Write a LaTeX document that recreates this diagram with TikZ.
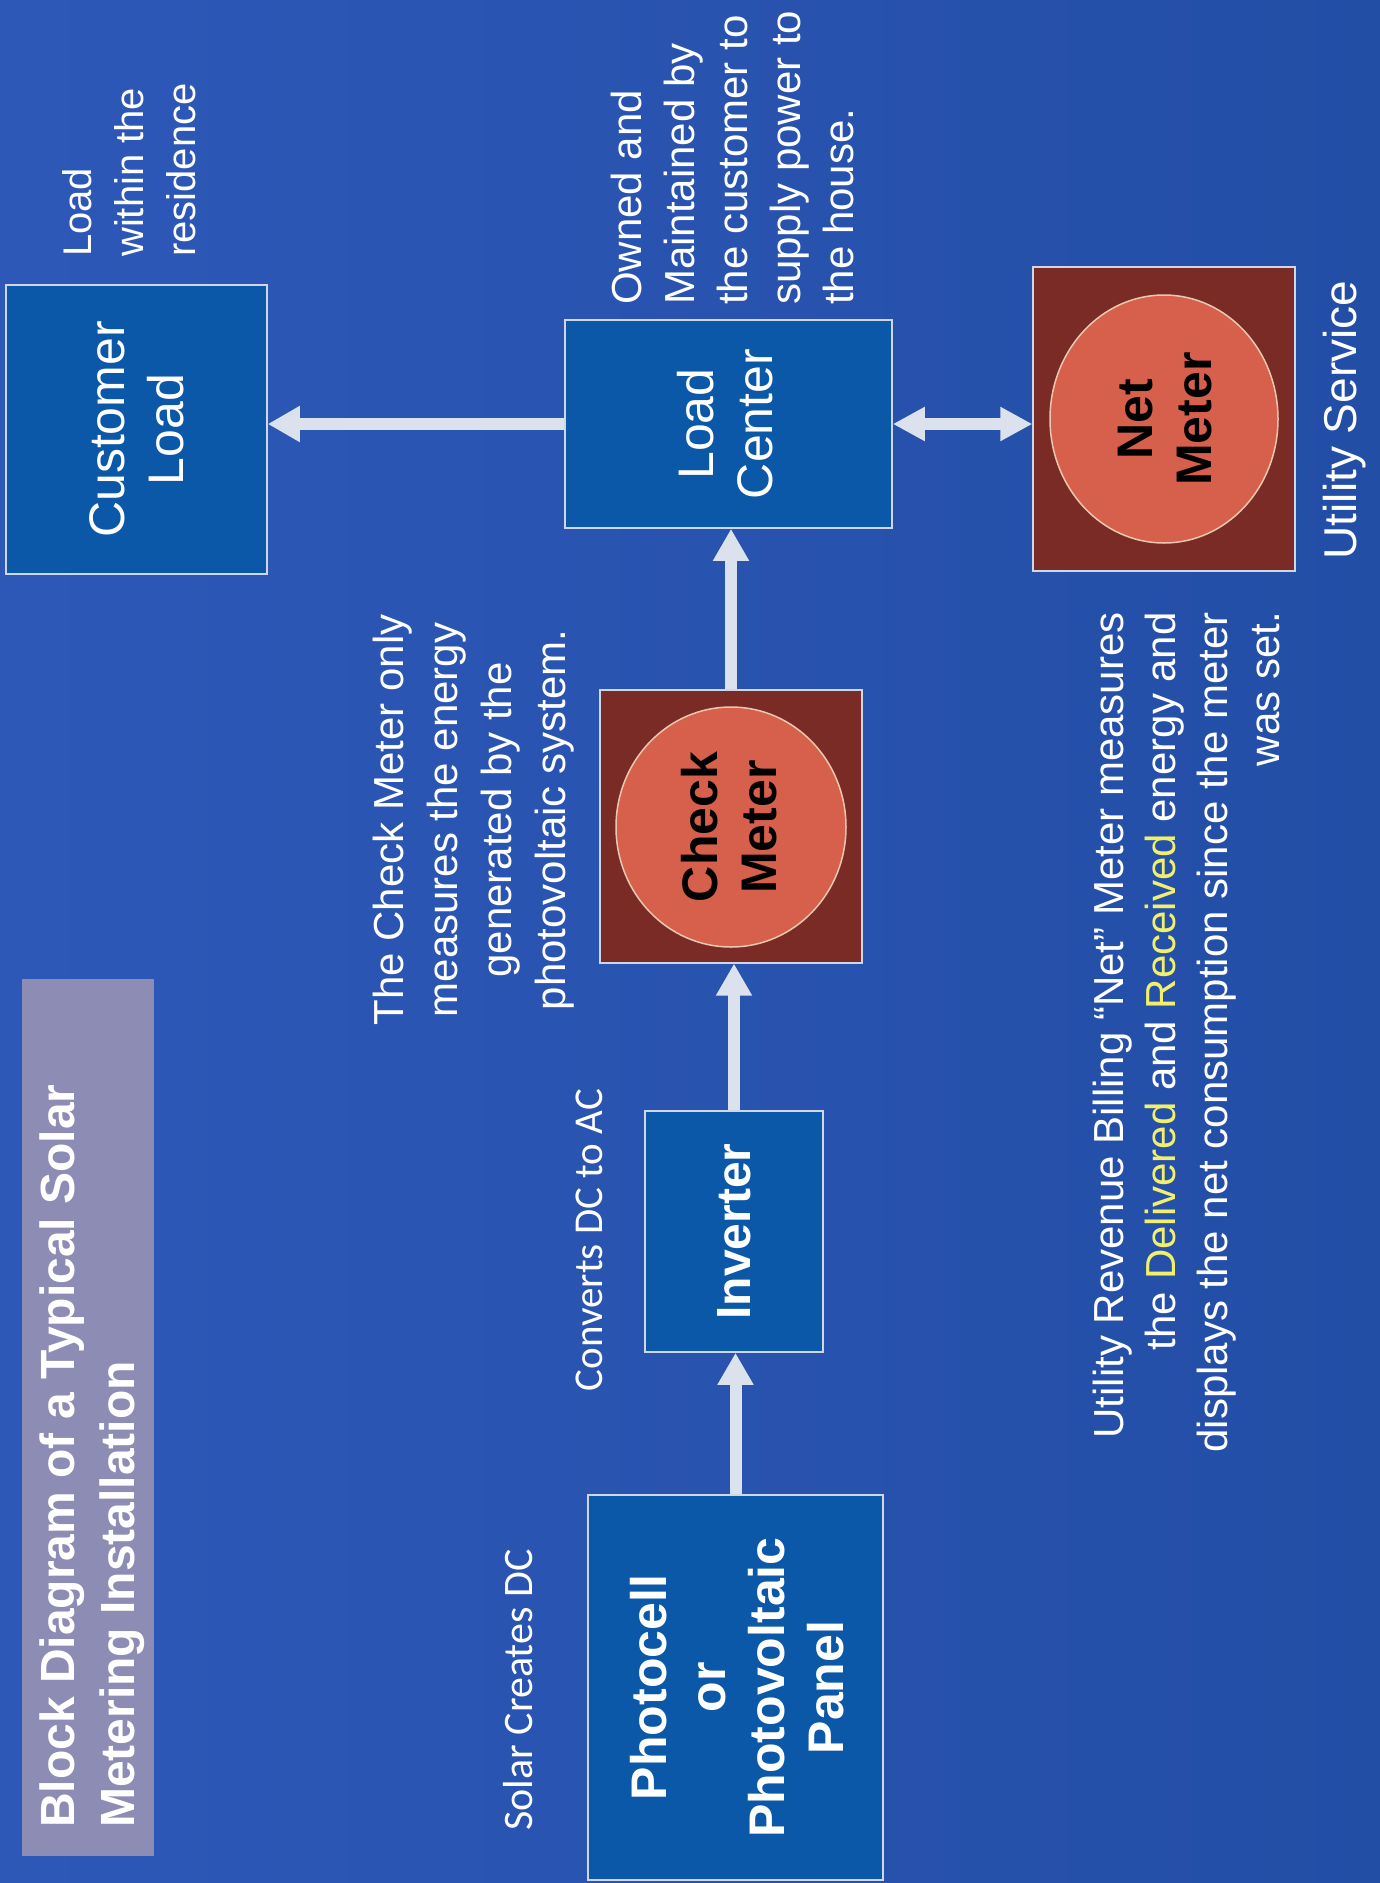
\documentclass[tikz,border=0pt]{standalone}
\usepackage{fontspec}
\setmainfont{Liberation Sans}
\newfontfamily\carlito{Carlito}
\usetikzlibrary{arrows.meta,shapes.geometric}
\definecolor{bglight}{HTML}{2E58B8}
\definecolor{bgdark}{HTML}{234EA6}
\definecolor{boxblue}{HTML}{0C58A8}
\definecolor{boxline}{HTML}{D0D6E4}
\definecolor{titlebg}{HTML}{8D8CB4}
\definecolor{meterdark}{HTML}{7A2B26}
\definecolor{meterface}{HTML}{D6604B}
\definecolor{meterrim}{HTML}{EAC8B0}
\definecolor{arrowcol}{HTML}{DCE1EE}
\definecolor{hilite}{HTML}{F2F06A}
\tikzset{
  bluebox/.style={draw=boxline, line width=1.6pt, fill=boxblue, inner sep=0pt, text=white},
  meterbox/.style={draw=boxline, line width=1.2pt, fill=meterdark, inner sep=0pt},
  meterface/.style={ellipse, draw=meterrim, line width=1.5pt, fill=meterface, inner sep=0pt, text=black},
  note/.style={rotate=90, text=white, inner sep=0pt},
  bigarrow/.style={draw=arrowcol, line width=12pt, -{Triangle[width=34pt,length=32pt]}},
  dblarrow/.style={draw=arrowcol, line width=12pt, {Triangle[width=32pt,length=32pt]}-{Triangle[width=32pt,length=32pt]}}
}
\newcommand{\boxlabel}[3]{\hspace*{#3pt}\rotatebox{90}{\fontsize{#1}{59}\selectfont\begin{tabular}{@{}c@{}}#2\end{tabular}}}
\begin{document}
\begin{tikzpicture}[x=1pt,y=-1pt]
\path[use as bounding box] (0,0) rectangle (1380,1883);
\shade[left color=bglight, right color=bgdark] (0,0) rectangle (1380,1883);

% title
\node[fill=titlebg, minimum width=132pt, minimum height=877pt, inner sep=0pt] (titlebox) at (88,1417.5) {};
\node[note, anchor=west, align=left, font=\bfseries\fontsize{48}{60}\selectfont] (titletext) at (92,1828)
  {Block Diagram of a Typical Solar\\Metering Installation};

% boxes
\node[bluebox, minimum width=295pt, minimum height=385pt] (pv) at (735.5,1687.5)
  {\boxlabel{50}{\bfseries Photocell\\\bfseries or\\\bfseries Photovoltaic\\\bfseries Panel}{16}};
\node[bluebox, minimum width=178pt, minimum height=241pt] (inv) at (734,1231.5)
  {\boxlabel{48}{\bfseries Inverter}{10}};
\node[meterbox, minimum width=262pt, minimum height=273pt] (chkbox) at (731,826.5) {};
\node[meterface, minimum width=230pt, minimum height=240pt] (chk) at (731,827)
  {\boxlabel{50}{\bfseries Check\\\bfseries Meter}{8}};
\node[bluebox, minimum width=327pt, minimum height=208pt] (lc) at (728.5,424)
  {\boxlabel{50}{Load\\Center}{6}};
\node[bluebox, minimum width=261pt, minimum height=289pt] (cl) at (136.5,429.5)
  {\boxlabel{50}{Customer\\Load}{12}};
\node[meterbox, minimum width=262pt, minimum height=304pt] (nmbox) at (1164,419) {};
\node[meterface, minimum width=228pt, minimum height=248pt] (nm) at (1164,419)
  {\boxlabel{50}{\bfseries Net\\\bfseries Meter}{12}};

% notes
\node[note, anchor=west, align=left, font=\fontsize{40}{52}\selectfont] (loadnote) at (129,257)
  {Load\\within the\\residence};
\node[note, anchor=west, align=left, font=\fontsize{42}{53}\selectfont] (ownnote) at (732,305)
  {Owned and\\Maintained by\\the customer to\\supply power to\\the house.};
\node[note, align=center, font=\fontsize{42}{54}\selectfont] (chknote) at (474,820)
  {The Check Meter only\\measures the energy\\generated by the\\photovoltaic system.};
\node[note, font=\carlito\fontsize{42}{50}\selectfont] (solarnote) at (518,1690) {Solar Creates DC};
\node[note, font=\carlito\fontsize{41}{50}\selectfont] (invnote) at (589,1240) {Converts DC to AC};
\node[note, anchor=east, align=right, font=\fontsize{42}{52}\selectfont] (netnote) at (1186,612)
  {Utility Revenue Billing “Net” Meter measures\\the \textcolor{hilite}{Delivered} and \textcolor{hilite}{Received} energy and\\displays the net consumption since the meter\\was set.};
\node[note, font=\fontsize{46}{52}\selectfont] (utilnote) at (1345,420) {Utility Service};

% connectors
\draw[bigarrow] (pv.north) -- (pv.north |- inv.south);
\draw[bigarrow] (inv.north) -- (inv.north |- chkbox.south);
\draw[bigarrow] (chkbox.north) -- (chkbox.north |- lc.south);
\draw[bigarrow] (lc.west) -- (lc.west -| cl.east);
\draw[dblarrow] (lc.east) -- (lc.east -| nmbox.west);
\end{tikzpicture}
\end{document}
